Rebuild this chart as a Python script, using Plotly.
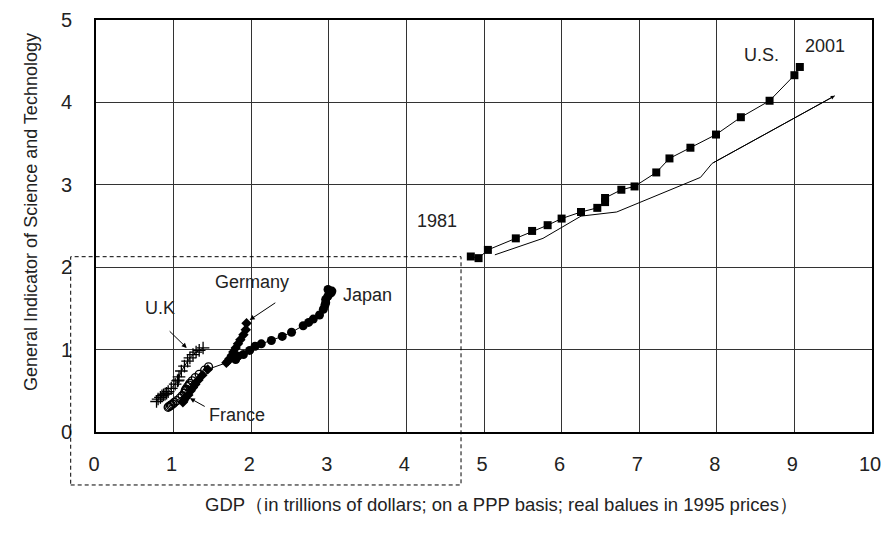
import plotly.graph_objects as go

# ---------------- data ----------------
years = list(range(1981, 2002))

us_gdp = [4.83, 4.93, 5.05, 5.41, 5.62, 5.82, 6.00, 6.25, 6.46, 6.56, 6.56,
          6.77, 6.94, 7.22, 7.39, 7.66, 7.99, 8.31, 8.68, 9.00, 9.07]
us_ind = [2.13, 2.11, 2.21, 2.35, 2.44, 2.51, 2.59, 2.67, 2.72, 2.79, 2.84,
          2.94, 2.98, 3.15, 3.32, 3.45, 3.61, 3.82, 4.02, 4.33, 4.43]

trend_gdp = [5.14, 5.76, 6.25, 6.71, 7.79, 7.94, 9.52]
trend_ind = [2.15, 2.35, 2.62, 2.67, 3.09, 3.26, 4.08]

japan_gdp = [1.80, 1.83, 1.90, 1.98, 2.05, 2.13, 2.26, 2.40, 2.52, 2.67, 2.74,
             2.80, 2.88, 2.93, 2.95, 2.96, 2.96, 2.99, 3.03, 2.99, 3.04]
japan_ind = [0.88, 0.92, 0.94, 0.99, 1.04, 1.07, 1.11, 1.16, 1.21, 1.29, 1.33,
             1.37, 1.42, 1.49, 1.54, 1.57, 1.61, 1.65, 1.69, 1.73, 1.71]

germany_gdp = [1.12, 1.13, 1.15, 1.19, 1.22, 1.25, 1.28, 1.32, 1.37, 1.44,
               1.68, 1.70, 1.72, 1.75, 1.77, 1.80, 1.83, 1.86, 1.90, 1.93, 1.94]
germany_ind = [0.36, 0.38, 0.41, 0.45, 0.50, 0.54, 0.58, 0.63, 0.69, 0.76,
               0.84, 0.86, 0.89, 0.93, 0.97, 1.02, 1.07, 1.12, 1.18, 1.24, 1.32]

france_gdp = [0.93, 0.94, 0.96, 0.97, 0.99, 1.01, 1.04, 1.08, 1.11, 1.14, 1.15,
              1.16, 1.16, 1.18, 1.20, 1.21, 1.24, 1.28, 1.33, 1.40, 1.45]
france_ind = [0.30, 0.31, 0.32, 0.33, 0.34, 0.36, 0.38, 0.41, 0.44, 0.47, 0.50,
              0.51, 0.52, 0.55, 0.57, 0.59, 0.62, 0.66, 0.70, 0.75, 0.79]

uk_gdp = [0.78, 0.80, 0.83, 0.85, 0.87, 0.89, 0.91, 0.93, 0.97, 1.02, 1.05,
          1.06, 1.07, 1.10, 1.14, 1.18, 1.21, 1.25, 1.29, 1.33, 1.38]
uk_ind = [0.37, 0.40, 0.42, 0.44, 0.45, 0.46, 0.47, 0.49, 0.53, 0.58, 0.62,
          0.63, 0.67, 0.74, 0.80, 0.86, 0.90, 0.94, 0.97, 0.99, 1.02]

x_ticks = list(range(0, 11))
y_ticks = list(range(0, 6))

x_title = "GDP\uff08in trillions of dollars; on a PPP basis; real balues in 1995 prices\uff09"
y_title = "General Indicator of Science and Technology"

# text labels: (text, x, y)
text_labels = [
    ("1981", 4.39, 2.56),
    ("U.S.", 8.58, 4.58),
    ("2001", 9.39, 4.69),
    ("Germany", 2.01, 1.82),
    ("U.K", 0.83, 1.50),
    ("Japan", 3.50, 1.66),
    ("France", 1.82, 0.21),
]
# arrows: (tail x, tail y, head x, head y)
arrow_labels = [
    (2.33, 1.58, 1.98, 1.36),
    (0.93, 1.24, 1.17, 1.02),
    (1.42, 0.30, 1.21, 0.41),
]
# dashed highlight box in paper coords
box = dict(x0=-0.0326, x1=0.4704, y0=-0.1286, y1=0.4255)

FONT = "Liberation Sans, Arial, sans-serif"

fig = go.Figure()

line = dict(color="black", width=1)

fig.add_trace(go.Scatter(x=trend_gdp, y=trend_ind, mode="lines", line=line,
                         hoverinfo="skip"))
fig.add_trace(go.Scatter(x=us_gdp, y=us_ind, mode="lines+markers", line=line,
                         marker=dict(symbol="square", size=8, color="black")))
fig.add_trace(go.Scatter(x=france_gdp, y=france_ind, mode="lines+markers", line=line,
                         marker=dict(symbol="circle-open", size=8, color="black",
                                     line=dict(width=1.3, color="black"))))
fig.add_trace(go.Scatter(x=uk_gdp, y=uk_ind, mode="lines+markers", line=line,
                         marker=dict(symbol="cross-thin", size=9, color="black",
                                     line=dict(width=1.3, color="black"))))
fig.add_trace(go.Scatter(x=germany_gdp, y=germany_ind, mode="lines+markers", line=line,
                         marker=dict(symbol="diamond", size=8, color="black")))
fig.add_trace(go.Scatter(x=japan_gdp, y=japan_ind, mode="lines+markers", line=line,
                         marker=dict(symbol="circle", size=9, color="black")))

annotations = []
# arrowhead at end of trend line
annotations.append(dict(x=trend_gdp[-1], y=trend_ind[-1], ax=trend_gdp[-2], ay=trend_ind[-2],
                        xref="x", yref="y", axref="x", ayref="y", text="",
                        showarrow=True, arrowhead=2, arrowsize=0.8, arrowwidth=1,
                        arrowcolor="black"))
for t, x, y in text_labels:
    annotations.append(dict(x=x, y=y, xref="x", yref="y", text=t, showarrow=False,
                            xanchor="center", yanchor="middle",
                            font=dict(family=FONT, size=18, color="#222")))
for x0, y0, x1, y1 in arrow_labels:
    annotations.append(dict(x=x1, y=y1, ax=x0, ay=y0, xref="x", yref="y",
                            axref="x", ayref="y", text="", showarrow=True,
                            arrowhead=2, arrowsize=1, arrowwidth=1, arrowcolor="black"))
annotations.append(dict(x=0.523, y=-0.177, xref="paper", yref="paper", text=x_title,
                        xanchor="center", yanchor="middle",
                        showarrow=False, font=dict(family=FONT, size=18.5, color="#222")))
annotations.append(dict(x=-0.0838, y=0.534, xref="paper", yref="paper", text=y_title,
                        xanchor="center", yanchor="middle",
                        textangle=-90, showarrow=False,
                        font=dict(family=FONT, size=18, color="#222")))

# the page body adds an 8px offset, so the figure is sized to fit the window
fig.update_layout(
    width=882, height=526,
    margin=dict(l=88, r=18, t=12, b=102, autoexpand=False),
    paper_bgcolor="white", plot_bgcolor="white",
    showlegend=False,
    annotations=annotations,
    shapes=[dict(type="rect", xref="paper", yref="paper", **box,
                 line=dict(color="black", width=1, dash="4px,3px"),
                 fillcolor="rgba(0,0,0,0)", layer="above")],
    font=dict(family=FONT, color="#222"),
)
fig.update_xaxes(range=[0, 10], tickvals=x_ticks, showgrid=True, gridcolor="#333",
                 gridwidth=1, showline=True, linecolor="black", linewidth=2, mirror=True,
                 zeroline=False, ticks="", ticklabelstandoff=13, ticklabelshift=-2,
                 automargin=False,
                 tickfont=dict(family=FONT, size=20, color="#222"))
fig.update_yaxes(range=[0, 5], tickvals=y_ticks, showgrid=True, gridcolor="#333",
                 gridwidth=1, showline=True, linecolor="black", linewidth=2, mirror=True,
                 zeroline=False, ticks="", ticklabelstandoff=18, automargin=False,
                 tickfont=dict(family=FONT, size=20, color="#222"))

fig.write_html("out.html")
